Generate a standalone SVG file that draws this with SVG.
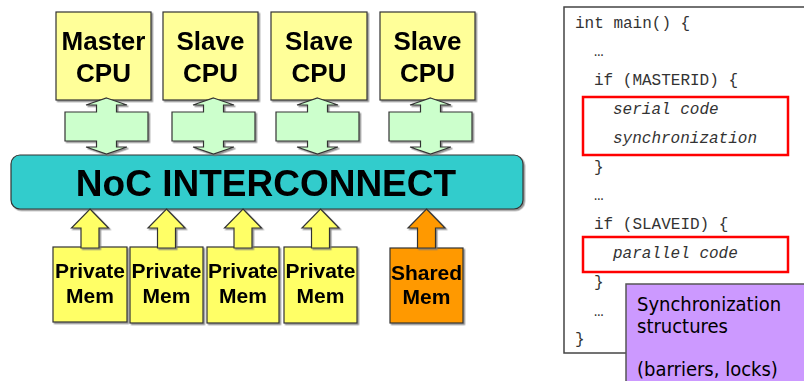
<svg xmlns="http://www.w3.org/2000/svg" xmlns:xlink="http://www.w3.org/1999/xlink" width="804" height="381" viewBox="0 0 804 381">
<style>
.box{stroke:#333;stroke-width:1.2}
.cpu{fill:#FFFF99}
.pm{fill:#FFFF66}
.sm{fill:#FF9900}
.dbl{fill:#CCFFCC;stroke:#333;stroke-width:1.2}
.up{stroke:#333;stroke-width:1.2}
.lbl{font-family:"Liberation Sans",Arial,sans-serif;font-weight:bold;fill:#000;text-anchor:middle}
.cpuT{font-size:26px}
.memT{font-size:21px}
.noc{fill:#33CCCC;stroke:#333;stroke-width:1.2}
.nocT{font-size:37px}
.code{font-family:"Liberation Mono","Courier New",monospace;font-size:16px;fill:#333}
.it{font-style:italic}
.red{fill:none;stroke:#FF0000;stroke-width:2.5}
.note{font-family:"DejaVu Sans Condensed","DejaVu Sans",sans-serif;font-size:20px;fill:#000}
.sh{filter:url(#shadow)}
</style>
<defs>
<filter id="shadow" x="-10%" y="-10%" width="130%" height="130%">
<feDropShadow dx="1.5" dy="1.5" stdDeviation="0.6" flood-color="#777" flood-opacity="0.8"/>
</filter>
<path id="dblArrow" d="M0,98 L20.5,105 L10,105 L10,112 L41.5,112 L41.5,141 L10,141 L10,147 L20.5,147 L0,154 L-20.5,147 L-10,147 L-10,141 L-41.5,141 L-41.5,112 L-10,112 L-10,105 L-20.5,105 Z"/>
<path id="upArrow" d="M0,209 L18.5,228 L9,228 L9,248 L-9,248 L-9,228 L-18.5,228 Z"/>
</defs>
<rect width="804" height="381" fill="#FFFFFF"/>

<g id="cpu-master" class="sh">
<rect class="box cpu" x="56" y="12" width="95" height="88"/>
<text class="lbl cpuT" x="103.5" y="50">Master</text>
<text class="lbl cpuT" x="103.5" y="82">CPU</text>
</g>
<g id="cpu-slave1" class="sh">
<rect class="box cpu" x="163" y="12" width="95" height="88"/>
<text class="lbl cpuT" x="210.5" y="50">Slave</text>
<text class="lbl cpuT" x="210.5" y="82">CPU</text>
</g>
<g id="cpu-slave2" class="sh">
<rect class="box cpu" x="271" y="12" width="96" height="88"/>
<text class="lbl cpuT" x="319" y="50">Slave</text>
<text class="lbl cpuT" x="319" y="82">CPU</text>
</g>
<g id="cpu-slave3" class="sh">
<rect class="box cpu" x="380" y="12" width="95" height="88"/>
<text class="lbl cpuT" x="427.5" y="50">Slave</text>
<text class="lbl cpuT" x="427.5" y="82">CPU</text>
</g>

<g id="noc" class="sh">
<rect class="noc" x="11" y="155" width="512" height="54" rx="9" ry="9"/>
<text class="lbl nocT" x="266" y="196">NoC INTERCONNECT</text>
</g>

<g id="mem-private1" class="sh">
<rect class="box pm" x="53" y="247" width="74" height="75"/>
<text class="lbl memT" x="90" y="278">Private</text>
<text class="lbl memT" x="90" y="303">Mem</text>
</g>
<g id="mem-private2" class="sh">
<rect class="box pm" x="130" y="247" width="73" height="76"/>
<text class="lbl memT" x="166.5" y="278">Private</text>
<text class="lbl memT" x="166.5" y="303">Mem</text>
</g>
<g id="mem-private3" class="sh">
<rect class="box pm" x="207" y="247" width="72" height="76"/>
<text class="lbl memT" x="243" y="278">Private</text>
<text class="lbl memT" x="243" y="303">Mem</text>
</g>
<g id="mem-private4" class="sh">
<rect class="box pm" x="284" y="247" width="73" height="76"/>
<text class="lbl memT" x="320.5" y="278">Private</text>
<text class="lbl memT" x="320.5" y="303">Mem</text>
</g>
<g id="mem-shared" class="sh">
<rect class="box sm" x="390" y="248" width="73" height="75"/>
<text class="lbl memT" x="426.5" y="280">Shared</text>
<text class="lbl memT" x="426.5" y="304">Mem</text>
</g>

<g id="connectors" class="sh">
<use xlink:href="#dblArrow" class="dbl" transform="translate(106.5,0)"/>
<use xlink:href="#dblArrow" class="dbl" transform="translate(213.5,0)"/>
<use xlink:href="#dblArrow" class="dbl" transform="translate(317.5,0)"/>
<use xlink:href="#dblArrow" class="dbl" transform="translate(430.5,0)"/>
<use xlink:href="#upArrow" class="up pm" transform="translate(90,0)"/>
<use xlink:href="#upArrow" class="up pm" transform="translate(166.5,0)"/>
<use xlink:href="#upArrow" class="up pm" transform="translate(243,0)"/>
<use xlink:href="#upArrow" class="up pm" transform="translate(320.5,0)"/>
<use xlink:href="#upArrow" class="up sm" transform="translate(426.5,0)"/>
</g>

<g id="code-box">
<rect x="564" y="7" width="250" height="346" fill="#FFFFFF" stroke="#444" stroke-width="1.5"/>
<text class="code" x="575" y="27.5">int main() {</text>
<text class="code" x="594" y="56.3">…</text>
<text class="code" x="594" y="85.1">if (MASTERID) {</text>
<text class="code it" x="613" y="113.9">serial code</text>
<text class="code it" x="613" y="142.7">synchronization</text>
<text class="code" x="594" y="171.5">}</text>
<text class="code" x="594" y="200.3">…</text>
<text class="code" x="594" y="229.1">if (SLAVEID) {</text>
<text class="code it" x="613" y="257.9">parallel code</text>
<text class="code" x="594" y="286.7">}</text>
<text class="code" x="594" y="315.5">…</text>
<text class="code" x="575" y="344.3">}</text>
<rect class="red" x="583" y="97" width="205" height="58"/>
<rect class="red" x="583" y="237" width="205" height="35"/>
</g>

<g id="sync-note">
<rect x="626" y="284" width="190" height="110" fill="#CC99FF" stroke="#555" stroke-width="1.5"/>
<text class="note" x="637" y="311">Synchronization</text>
<text class="note" x="637" y="333">structures</text>
<text class="note" x="637" y="376">(barriers, locks)</text>
</g>
</svg>
